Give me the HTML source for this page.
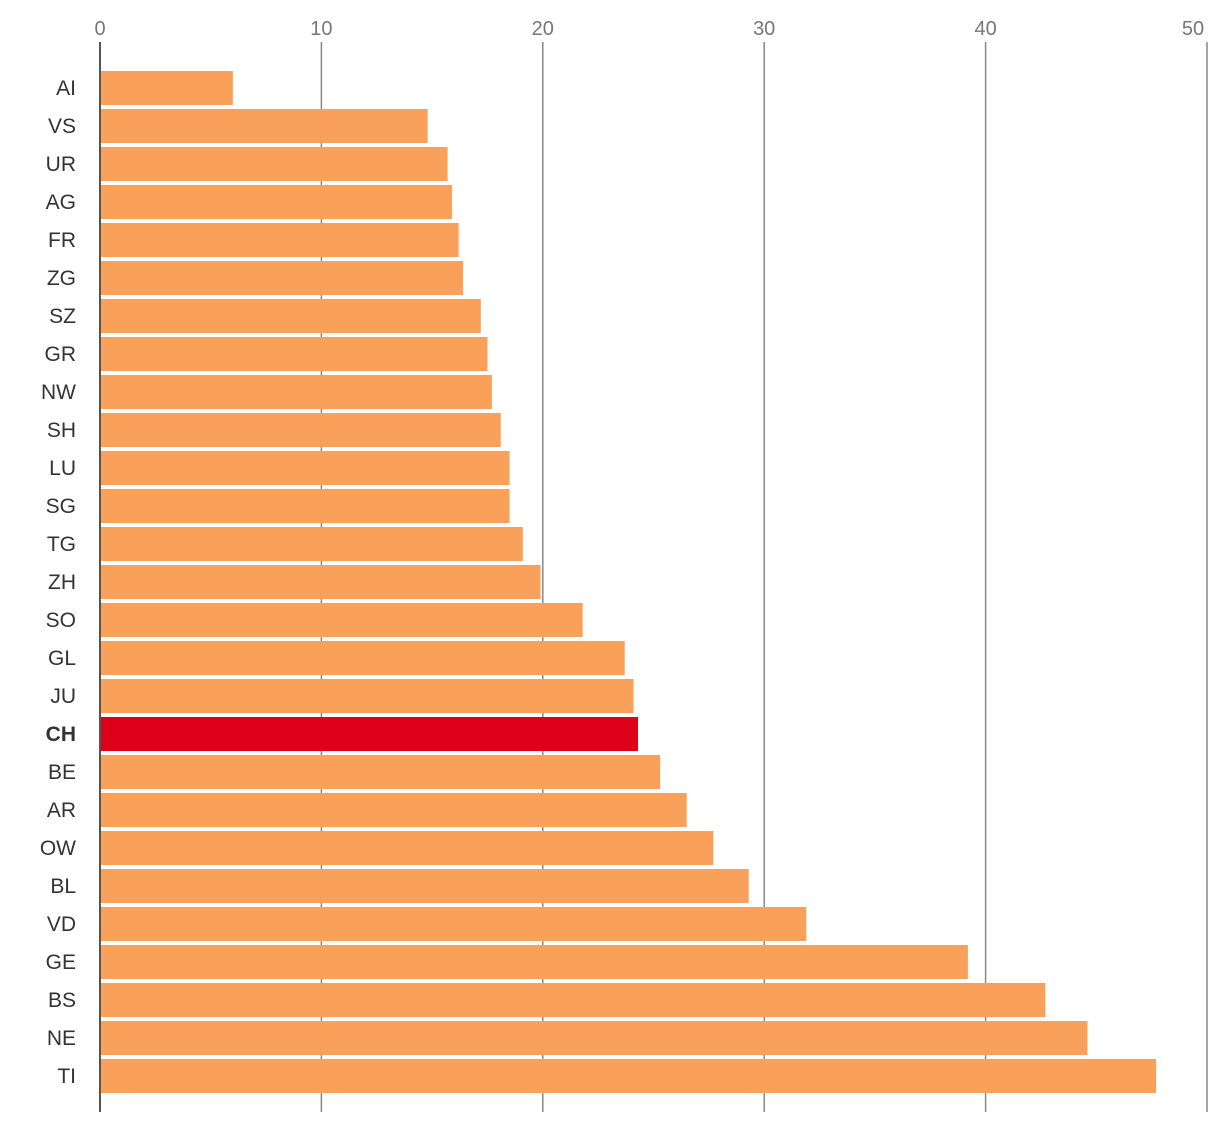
<!DOCTYPE html>
<html><head><meta charset="utf-8"><style>
body{margin:0;background:#fff;}
svg{display:block;font-family:"Liberation Sans","DejaVu Sans",sans-serif;}
</style></head><body>
<svg id="chart" width="1220" height="1124"></svg>
<script>
const categories=["AI","VS","UR","AG","FR","ZG","SZ","GR","NW","SH","LU","SG","TG","ZH","SO","GL","JU","CH","BE","AR","OW","BL","VD","GE","BS","NE","TI"];
const values=[6.0,14.8,15.7,15.9,16.2,16.4,17.2,17.5,17.7,18.1,18.5,18.5,19.1,19.9,21.8,23.7,24.1,24.3,25.3,26.5,27.7,29.3,31.9,39.2,42.7,44.6,47.7];
const tickValues=[0,10,20,30,40,50];
const tickLabels=["0","10","20","30","40","50"];
const highlight="CH";
const NS="http://www.w3.org/2000/svg";
const svg=document.getElementById('chart');
const x0=100,pxPerUnit=22.14;
function xs(v){return x0+v*pxPerUnit;}
function yc(i){return 88+i*38;}
function mk(t,a,p){const e=document.createElementNS(NS,t);for(const k in a)e.setAttribute(k,a[k]);(p||svg).appendChild(e);return e;}
const grid=mk('g',{});


tickValues.forEach((v,i)=>{
  const l=mk('line',{x1:xs(v),x2:xs(v),y1:42,y2:1112,stroke:i==0?'#555':'#888','stroke-width':i==0?2:1.5},grid);
  
  
  const t=mk('text',{x:i==5?xs(v)-14:xs(v),y:35,'text-anchor':'middle','font-size':20,fill:'#777'});
  t.textContent=tickLabels[i];
  
  
});
categories.forEach((c,i)=>{
  const r=mk('rect',{x:xs(0)+1,y:yc(i)-17,width:xs(values[i])-xs(0)-1,height:34,fill:c==highlight?'#dc0018':'#f9a05b'});
  
  
  const t=mk('text',{x:76,y:yc(i)+7,'text-anchor':'end','font-size':21,fill:'#333','font-weight':c==highlight?'bold':'normal'});
  t.textContent=c;
  
  
});
</script>
</body></html>
